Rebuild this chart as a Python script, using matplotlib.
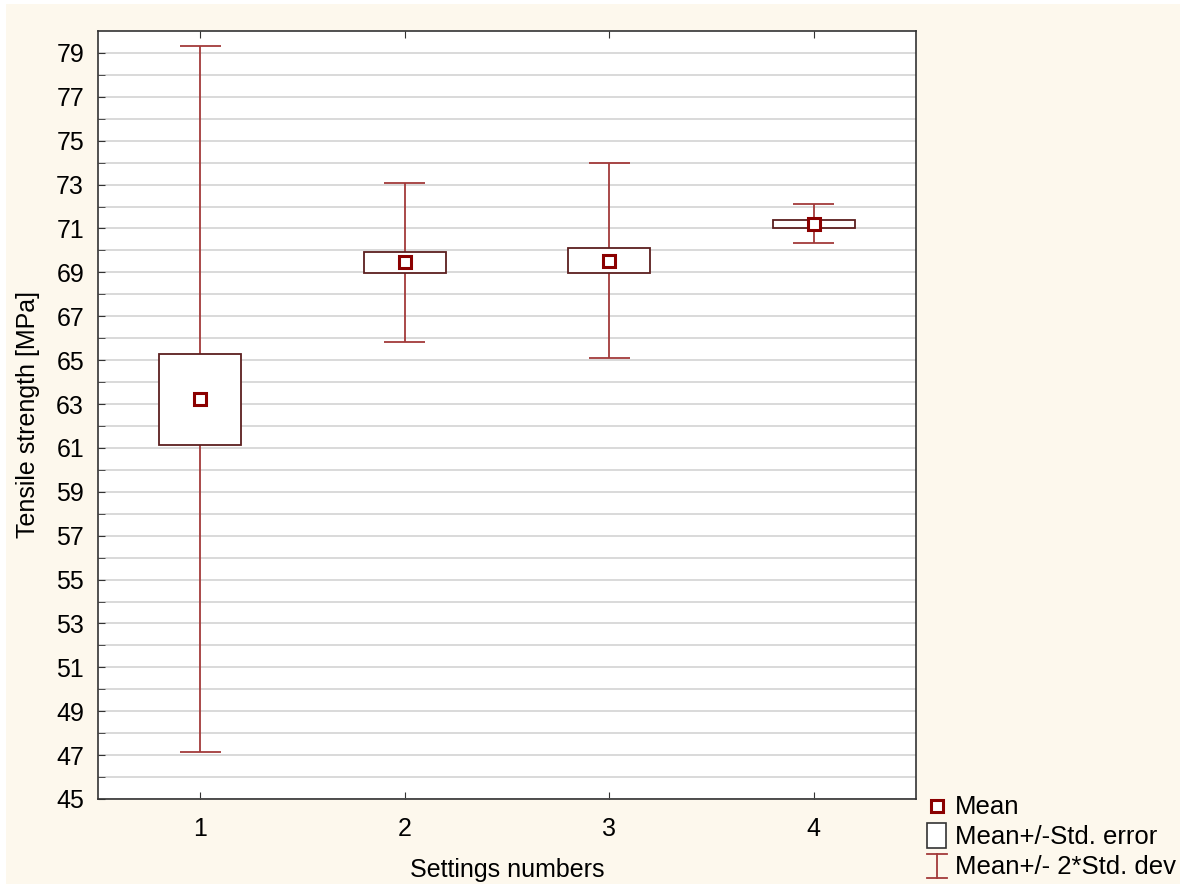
import numpy as np
import matplotlib
matplotlib.use("Agg")
import matplotlib.pyplot as plt
from matplotlib.lines import Line2D
from matplotlib.patches import Rectangle

plt.rcParams['font.family'] = ['Liberation Sans', 'DejaVu Sans']

settings = [1, 2, 3, 4]
means = [63.22, 69.45, 69.53, 71.22]
std_err = [2.07, 0.48, 0.57, 0.18]
two_sd = [16.09, 3.63, 4.45, 0.89]
ytick_labels = list(range(45, 80, 2))

whisker_c = '#a33a3a'
box_c = '#5c1f1f'
mean_c = '#8b0000'

fig = plt.figure(figsize=(11.9, 8.88), dpi=100, facecolor='white')
fig.add_artist(Rectangle((6 / 1190, 4 / 888), 1174 / 1190, 880 / 888, transform=fig.transFigure,
                         facecolor='#fdf8ed', edgecolor='none', zorder=-10))
ax = fig.add_axes([98 / 1190, 89 / 888, 818 / 1190, 768 / 888])
ax.set_facecolor('white')

x = np.array(settings)
m = np.array(means)
se = np.array(std_err)
sd2 = np.array(two_sd)

# whiskers (mean +/- 2*sd)
ax.vlines(x, m - sd2, m + sd2, color=whisker_c, lw=1.3, zorder=2)
ax.hlines(m + sd2, x - 0.1, x + 0.1, color=whisker_c, lw=1.3, zorder=2)
ax.hlines(m - sd2, x - 0.1, x + 0.1, color=whisker_c, lw=1.3, zorder=2)
# boxes (mean +/- se)
ax.bar(x, 2 * se, bottom=m - se, width=0.4, facecolor='white', edgecolor=box_c, lw=1.3, zorder=3)
# means
ax.plot(x, m, ls='none', marker='s', ms=9, mfc='white', mec=mean_c, mew=2.2, zorder=4)

ax.set_xlim(0.5, 4.5)
ax.set_ylim(45, 80)
ax.set_xticks(settings)
ax.set_xticklabels([str(s) for s in settings])
ax.set_yticks(ytick_labels)
ax.set_yticks(np.arange(46, 80, 2), minor=True)
ax.grid(True, which='both', axis='y', color='#d9d9d9', lw=1.4, zorder=0)
ax.set_axisbelow(True)
ax.tick_params(which='both', direction='in', length=5, color='#333333', top=True, right=False,
               labelsize=18)
ax.tick_params(axis='y', pad=10)
ax.tick_params(axis='x', pad=13)
for s in ax.spines.values():
    s.set_color('#333333')
    s.set_linewidth(1.2)

ax.set_xlabel('Settings numbers', fontsize=18, va='center')
ax.xaxis.set_label_coords(0.5, (799 - 870) / 768)
ax.set_ylabel('Tensile strength [MPa]', fontsize=18, va='center')
ax.yaxis.set_label_coords((28 - 98) / 818, 0.5)

# legend drawn in figure pixels
def fx(px):
    return px / 1190

def fy(py):
    return 1 - py / 888

fig.add_artist(Line2D([fx(937)], [fy(806)], marker='s', ms=8, mfc='white', mec=mean_c, mew=2.2,
                      transform=fig.transFigure))
fig.add_artist(Rectangle((fx(927), fy(848)), fx(19), 25 / 888, transform=fig.transFigure,
                         facecolor='white', edgecolor='#333333', lw=1.2))
fig.add_artist(Line2D([fx(937), fx(937)], [fy(854), fy(878)], color=whisker_c, lw=1.3,
                      transform=fig.transFigure))
for yy in (854, 878):
    fig.add_artist(Line2D([fx(927), fx(947)], [fy(yy), fy(yy)], color=whisker_c, lw=1.3,
                          transform=fig.transFigure))
for yy, txt in [(807, 'Mean'), (837, 'Mean+/-Std. error'), (867, 'Mean+/- 2*Std. dev')]:
    fig.text(fx(955), fy(yy), txt, fontsize=18.5, va='center', ha='left')

fig.savefig('out.png', dpi=100, facecolor=fig.get_facecolor())
